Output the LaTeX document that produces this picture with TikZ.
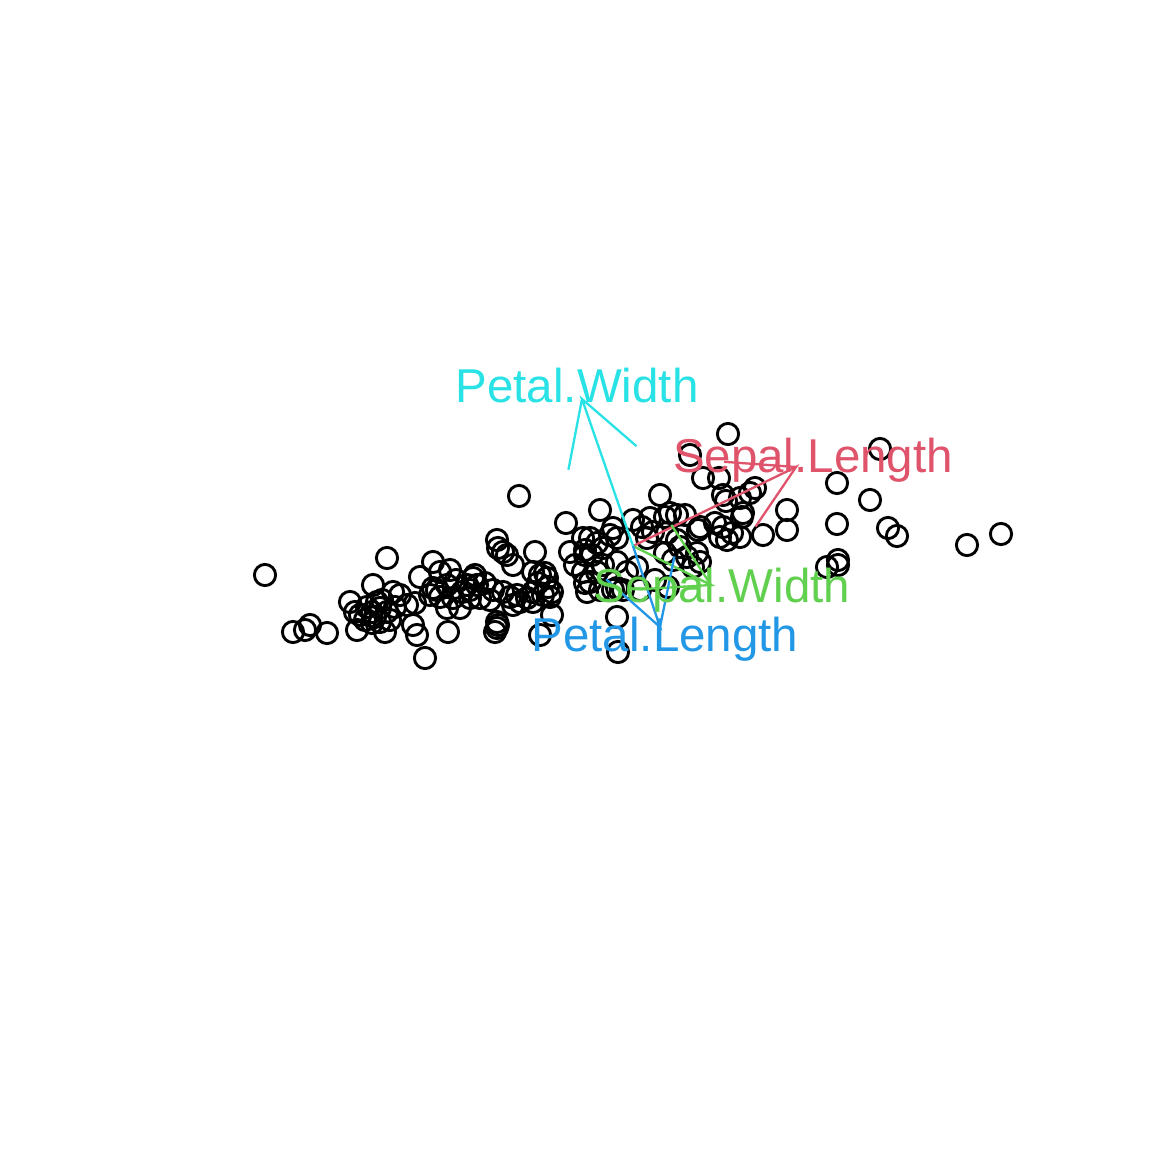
\documentclass[tikz,border=0pt]{standalone}
\usepackage{fontspec}
\setmainfont{Liberation Sans}
\usetikzlibrary{calc}
\definecolor{rred}{HTML}{DF536B}
\definecolor{rgreen}{HTML}{61D04F}
\definecolor{rblue}{HTML}{2297E6}
\definecolor{rcyan}{HTML}{28E2E5}
\begin{document}
\begin{tikzpicture}[x=1pt,y=-1pt,
  pt/.style={line width=2.9pt},
  arr/.style={line width=2.3pt},
  lab/.style={anchor=base, inner sep=0pt, font=\fontsize{47.5}{57}\selectfont}]
\useasboundingbox[fill=white] (0,0) rectangle (1152,1152);
% points
\foreach \x/\y in {
 265/575,387/558,293/632,305/630,310/625,327/633,350/602,357/630,360/615,367/607,
 372/612,377/602,373/585,380/622,372/623,387/612,393/592,385/632,390/620,407/605,
 413/625,417/635,415/603,420/577,433/562,440/572,433/588,450/570,447/585,453/598,
 460/608,467/585,473/578,470/598,447/608,448/632,425/658,365/620,380/608,400/595,
 430/595,440/597,462/592,375/617,395/607,355/612,437/590,456/580,470/590,382/600,
 475/575,477/585,485/583,493/590,490/600,480/598,503/592,510/597,517/595,520/602,
 513/605,527/598,533/602,533/592,497/622,497/628,495/632,498/625,552/615,540/635,
 497/540,498/548,503/552,507/555,535/552,513/565,540/575,547/578,533/572,538/583,
 548/587,552/592,543/595,519/496,545/573,550/597,
 566/523,570/552,583/538,585/555,585/583,587/592,600/510,590/538,597/543,585/550,
 592/555,603/548,613/528,617/538,610/535,633/520,642/527,650/518,665/517,653/532,
 647/538,667/533,677/515,583/572,597/572,590/582,603/565,
 617/562,627/572,617/588,575/565,600/590,617/617,618/652,613/590,623/590,637/567,
 660/495,670/513,685/515,700/527,715/523,723/527,720/537,727/540,
 740/537,732/533,742/517,763/535,677/540,680/547,665/553,673/560,687/557,697/553,
 700/562,693/567,668/587,723/495,740/498,750/493,
 728/434,690/455,880/449,703/478,719/478,726/501,837/483,870/500,755/488,787/510,
 743/513,837/524,787/530,888/528,897/536,967/545,1001/534,827/567,838/565,838/560,
 698/530,640/590,655/580}
  \draw[pt] (\x,\y) circle[radius=10.6pt];
% arrows
\coordinate (o) at (633,546);
\coordinate (tsl) at (796,467);
\coordinate (tsw) at (711,585);
\coordinate (tpl) at (660,627);
\coordinate (tpw) at (582,399);
\draw[arr, rred] (o) -- (tsl) -- ($(tsl)!72pt!30:(o)$) (tsl) -- ($(tsl)!72pt!-30:(o)$);
\draw[arr, rgreen] (o) -- (tsw) -- ($(tsw)!72pt!30:(o)$) (tsw) -- ($(tsw)!72pt!-30:(o)$);
\draw[arr, rblue] (o) -- (tpl) -- ($(tpl)!72pt!30:(o)$) (tpl) -- ($(tpl)!72pt!-30:(o)$);
\draw[arr, rcyan] (o) -- (tpw) -- ($(tpw)!72pt!30:(o)$) (tpw) -- ($(tpw)!72pt!-30:(o)$);
% labels
\node[lab, text=rcyan] (lpw) at (577,402) {Petal.Width};
\node[lab, text=rred] (lsl) at (813,472) {Sepal.Length};
\node[lab, text=rgreen] (lsw) at (722,602) {Sepal.Width};
\node[lab, text=rblue] (lpl) at (665,651) {Petal.Length};
\end{tikzpicture}
\end{document}
